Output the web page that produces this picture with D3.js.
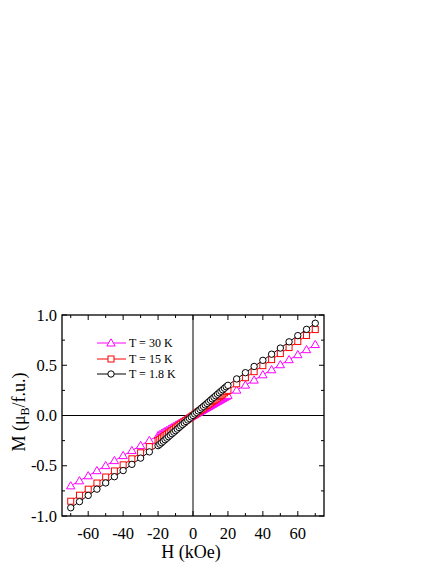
<!DOCTYPE html>
<html><head><meta charset="utf-8">
<script src="https://cdn.jsdelivr.net/npm/d3@7"></script>
<style>body{margin:0;background:#fff}svg{display:block}</style>
</head><body><svg id="c" width="436" height="564"></svg>
<script>
const fieldH = [-70,-65,-60,-55,-50,-45,-40,-35,-30,-25,-20,-19,-18,-17,-16,-15,-14,-13,-12,-11,-10,-9,-8,-7,-6,-5,-4,-3,-2,-1,0,1,2,3,4,5,6,7,8,9,10,11,12,13,14,15,16,17,18,19,20,25,30,35,40,45,50,55,60,65,70];
const m30K = [-0.700,-0.650,-0.600,-0.549,-0.499,-0.449,-0.399,-0.349,-0.299,-0.249,-0.200,-0.190,-0.180,-0.170,-0.160,-0.150,-0.140,-0.130,-0.120,-0.110,-0.100,-0.090,-0.080,-0.070,-0.060,-0.050,-0.040,-0.030,-0.020,-0.010,0,0.010,0.020,0.030,0.040,0.050,0.060,0.070,0.080,0.090,0.100,0.110,0.120,0.130,0.140,0.150,0.160,0.170,0.180,0.190,0.200,0.252,0.302,0.352,0.405,0.455,0.505,0.555,0.605,0.655,0.706];
const m15K = [-0.853,-0.793,-0.733,-0.672,-0.612,-0.552,-0.491,-0.431,-0.371,-0.310,-0.250,-0.238,-0.225,-0.213,-0.200,-0.188,-0.175,-0.163,-0.150,-0.138,-0.125,-0.113,-0.100,-0.088,-0.075,-0.063,-0.050,-0.038,-0.025,-0.013,0,0.013,0.025,0.038,0.050,0.063,0.075,0.088,0.100,0.113,0.125,0.138,0.150,0.163,0.175,0.188,0.200,0.213,0.225,0.238,0.250,0.315,0.376,0.436,0.496,0.556,0.616,0.676,0.736,0.796,0.855];
const m18K = [-0.918,-0.857,-0.795,-0.733,-0.671,-0.609,-0.548,-0.486,-0.424,-0.362,-0.300,-0.286,-0.271,-0.256,-0.241,-0.226,-0.211,-0.196,-0.181,-0.166,-0.151,-0.136,-0.120,-0.105,-0.090,-0.075,-0.060,-0.045,-0.030,-0.015,0,0.015,0.030,0.045,0.060,0.075,0.090,0.105,0.120,0.136,0.151,0.166,0.181,0.196,0.211,0.226,0.241,0.256,0.271,0.286,0.300,0.364,0.426,0.488,0.549,0.610,0.671,0.733,0.795,0.857,0.918];
const seriesNames = ["T = 30 K","T = 15 K","T = 1.8 K"];
const xTicks = [-60,-40,-20,0,20,40,60];
const yTicks = [-1.0,-0.5,0.0,0.5,1.0];

const FONT = '"Liberation Serif","Times New Roman",serif';
const svg = d3.select("#c");
const L=62,R=324,T=315,B=516;
const x = d3.scaleLinear().domain([-75,75]).range([L,R]);
const y = d3.scaleLinear().domain([-1,1]).range([B,T]);

const series = [
  {name:seriesNames[0], vals:m30K, color:"#ff00ff", shape:"tri"},
  {name:seriesNames[1], vals:m15K, color:"#ff0000", shape:"sq"},
  {name:seriesNames[2], vals:m18K, color:"#000000", shape:"circ"}
];

const g = svg.append("g");
g.append("line").attr("x1",x(0)).attr("x2",x(0)).attr("y1",T).attr("y2",B).attr("stroke","#000").attr("stroke-width",1);
g.append("line").attr("x1",L).attr("x2",R).attr("y1",y(0)).attr("y2",y(0)).attr("stroke","#000").attr("stroke-width",1);

function marker(sel, shape, color){
  if(shape==="tri"){
    sel.append("path").attr("d","M0,-4.2L4.2,3L-4.2,3Z");
  } else if(shape==="sq"){
    sel.append("rect").attr("x",-3).attr("y",-3).attr("width",6).attr("height",6);
  } else {
    sel.append("circle").attr("r",3.2);
  }
  sel.selectAll("path,rect,circle").attr("fill","#fff").attr("stroke",color).attr("stroke-width",1);
}

const line = d3.line().x((d,i)=>x(fieldH[i])).y(d=>y(d));
series.forEach(s=>{
  g.append("path").attr("d",line(s.vals)).attr("fill","none").attr("stroke",s.color).attr("stroke-width",1);
});
series.forEach(s=>{
  s.vals.forEach((v,i)=>{
    const m = g.append("g").attr("transform",`translate(${x(fieldH[i])},${y(v)})`);
    marker(m, s.shape, s.color);
  });
});

const ax = svg.append("g");
const xMinor = d3.range(-70,71,10);
const yMinor = d3.range(-1,1.001,0.25);
xMinor.forEach(v=>{
  const len = (v%20===0)?5:3;
  ax.append("line").attr("x1",x(v)).attr("x2",x(v)).attr("y1",B).attr("y2",B-len).attr("stroke","#000");
  ax.append("line").attr("x1",x(v)).attr("x2",x(v)).attr("y1",T).attr("y2",T+len).attr("stroke","#000");
});
yMinor.forEach(v=>{
  const len = (Math.abs(v*2-Math.round(v*2))<1e-6)?5:3;
  ax.append("line").attr("x1",L).attr("x2",L+len).attr("y1",y(v)).attr("y2",y(v)).attr("stroke","#000");
  ax.append("line").attr("x1",R).attr("x2",R-len).attr("y1",y(v)).attr("y2",y(v)).attr("stroke","#000");
});
ax.append("rect").attr("x",L).attr("y",T).attr("width",R-L).attr("height",B-T).attr("fill","none").attr("stroke","#000").attr("stroke-width",1.3);

xTicks.forEach(v=>{
  ax.append("text").attr("x",x(v)).attr("y",539).attr("text-anchor","middle").style("font-family",FONT).style("font-size","16.5px").text(v);
});
yTicks.forEach(v=>{
  ax.append("text").attr("x",57).attr("y",y(v)+5.5).attr("text-anchor","end").style("font-family",FONT).style("font-size","16.5px").text(d3.format(".1f")(v).replace("−","-"));
});
ax.append("text").attr("x",191).attr("y",558).attr("text-anchor","middle").style("font-family",FONT).style("font-size","18px").text("H (kOe)");
const yt = ax.append("text").attr("transform",`translate(25,412) rotate(-90)`).attr("text-anchor","middle").style("font-family",FONT).style("font-size","18px");
yt.append("tspan").text("M (μ");
yt.append("tspan").style("font-size","12px").attr("dy",4).text("B");
yt.append("tspan").attr("dy",-4).text("/f.u.)");

const legY=[343,359,374];
series.forEach((s,i)=>{
  const lg = svg.append("g");
  lg.append("line").attr("x1",97).attr("x2",126).attr("y1",legY[i]).attr("y2",legY[i]).attr("stroke",s.color);
  const m = lg.append("g").attr("transform",`translate(111,${legY[i]})`);
  marker(m,s.shape,s.color);
  lg.append("text").attr("x",129).attr("y",legY[i]+4).style("font-family",FONT).style("font-size","12px").text(s.name);
});
</script></body></html>
